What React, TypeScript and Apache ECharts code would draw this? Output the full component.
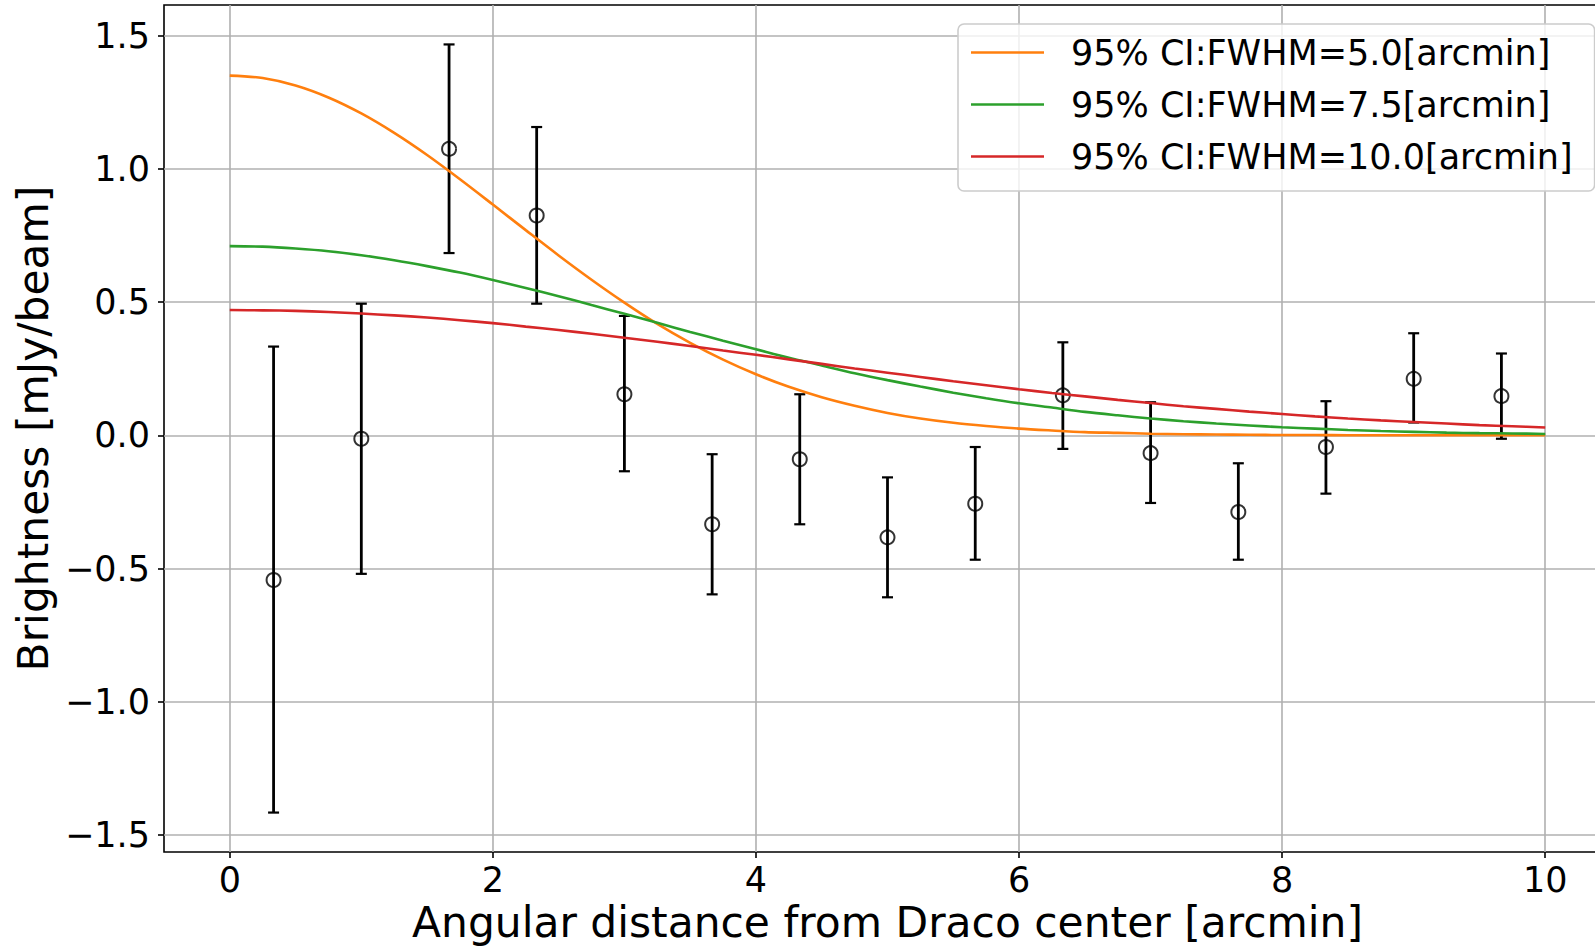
import React, { useEffect, useRef } from 'react';
import * as echarts from 'echarts';

// Model curves (x in arcmin, step 0.25)
const curveX = [0, 0.25, 0.5, 0.75, 1, 1.25, 1.5, 1.75, 2, 2.25, 2.5, 2.75, 3, 3.25, 3.5, 3.75, 4, 4.25, 4.5, 4.75, 5,
  5.25, 5.5, 5.75, 6, 6.25, 6.5, 6.75, 7, 7.25, 7.5, 7.75, 8, 8.25, 8.5, 8.75, 9, 9.25, 9.5, 9.75, 10];
const fwhm5 = [1.35, 1.341, 1.313, 1.268, 1.208, 1.135, 1.052, 0.961, 0.866, 0.77, 0.675, 0.584, 0.498, 0.418, 0.347, 0.284,
  0.229, 0.182, 0.143, 0.111, 0.084, 0.063, 0.047, 0.035, 0.025, 0.018, 0.012, 0.009, 0.006, 0.004, 0.003, 0.002, 0.001,
  0.001, 0.0, 0.0, 0.0, 0.0, 0.0, 0.0, 0.0];
const fwhm75 = [0.71, 0.708, 0.701, 0.691, 0.676, 0.657, 0.635, 0.611, 0.583, 0.553, 0.522, 0.489, 0.456, 0.422, 0.388, 0.355,
  0.323, 0.291, 0.262, 0.233, 0.207, 0.183, 0.16, 0.139, 0.12, 0.104, 0.088, 0.075, 0.063, 0.053, 0.044, 0.037, 0.03,
  0.025, 0.02, 0.016, 0.013, 0.01, 0.008, 0.007, 0.005];
const fwhm10 = [0.47, 0.469, 0.467, 0.463, 0.457, 0.45, 0.442, 0.432, 0.421, 0.408, 0.395, 0.381, 0.366, 0.351, 0.335, 0.318,
  0.302, 0.285, 0.268, 0.251, 0.235, 0.219, 0.203, 0.188, 0.173, 0.159, 0.146, 0.133, 0.121, 0.109, 0.099, 0.089, 0.08,
  0.071, 0.063, 0.056, 0.05, 0.044, 0.038, 0.034, 0.029];

// Measured points with error bars
const pointX = [0.333, 1.0, 1.667, 2.333, 3.0, 3.667, 4.333, 5.0, 5.667, 6.333, 7.0, 7.667, 8.333, 9.0, 9.667];
const pointY = [-0.543, -0.013, 1.075, 0.825, 0.154, -0.334, -0.09, -0.383, -0.257, 0.15, -0.067, -0.288, -0.044, 0.212, 0.147];
const errTop = [0.333, 0.494, 1.467, 1.157, 0.448, -0.071, 0.154, -0.158, -0.044, 0.349, 0.124, -0.105, 0.128, 0.383, 0.307];
const errBottom = [-1.416, -0.52, 0.684, 0.494, -0.135, -0.597, -0.334, -0.608, -0.467, -0.051, -0.254, -0.467, -0.219, 0.048, -0.013];

// Tick values
const xTicks = [0, 2, 4, 6, 8, 10];
const yTicks = [-1.5, -1.0, -0.5, 0.0, 0.5, 1.0, 1.5];

const seriesNames = ['95% CI:FWHM=5.0[arcmin]', '95% CI:FWHM=7.5[arcmin]', '95% CI:FWHM=10.0[arcmin]'];
const seriesColors = ['#ff7f0e', '#2ca02c', '#d62728'];
const curves = [fwhm5, fwhm75, fwhm10];

const FONT = 'DejaVu Sans';

export default function App() {
  const ref = useRef<HTMLDivElement>(null);
  useEffect(() => {
    if (!ref.current) return;
    const chart = echarts.init(ref.current, null, { renderer: 'svg' });
    const option: any = {
      animation: false,
      backgroundColor: '#ffffff',
      grid: {
        left: 164,
        top: 5,
        right: -16,
        bottom: 96,
        outerBoundsMode: 'none',
        containLabel: false,
        show: true,
        borderColor: '#000000',
        borderWidth: 1.6,
        backgroundColor: 'transparent',
      },
      legend: {
        orient: 'vertical',
        left: 958,
        top: 24,
        data: seriesNames,
        icon: 'rect',
        itemWidth: 73,
        itemHeight: 2.6,
        itemGap: 17,
        padding: [11, 22, 17, 13],
        backgroundColor: 'rgba(255,255,255,0.8)',
        borderColor: '#cccccc',
        borderWidth: 1.6,
        borderRadius: 6,
        textStyle: {
          fontFamily: FONT,
          fontSize: 35,
          color: '#000000',
          padding: [0, 0, 0, 22],
        },
      },
      xAxis: {
        type: 'value',
        min: -0.5,
        max: 10.5,
        name: 'Angular distance from Draco center [arcmin]',
        nameLocation: 'middle',
        nameGap: 46,
        nameTextStyle: { fontFamily: FONT, fontSize: 42.4, color: '#000000' },
        axisLine: { show: false, onZero: false },
        axisTick: { show: true, length: 6, customValues: xTicks, lineStyle: { color: '#000000', width: 1.6 } },
        axisLabel: {
          fontFamily: FONT,
          fontSize: 35,
          color: '#000000',
          margin: 10,
          customValues: xTicks,
          formatter: (v: number) => (Math.abs(v - Math.round(v)) < 1e-6 && Math.round(v) % 2 === 0 ? String(Math.round(v)) : ''),
        },
        splitLine: { show: true, lineStyle: { color: '#b0b0b0', width: 1.6 } },
      },
      yAxis: {
        type: 'value',
        min: -1.564,
        max: 1.615,
        name: 'Brightness [mJy/beam]',
        nameLocation: 'middle',
        nameGap: 103,
        nameTextStyle: { fontFamily: FONT, fontSize: 42.4, color: '#000000' },
        axisLine: { show: false, onZero: false },
        axisTick: { show: true, length: 6, customValues: yTicks, lineStyle: { color: '#000000', width: 1.6 } },
        axisLabel: {
          fontFamily: FONT,
          fontSize: 35,
          color: '#000000',
          margin: 14,
          customValues: yTicks,
          formatter: (v: number) =>
            Math.abs(v * 2 - Math.round(v * 2)) < 1e-6 ? (Math.round(v * 2) / 2).toFixed(1).replace('-', '\u2212') : '',
        },
        splitLine: { show: true, lineStyle: { color: '#b0b0b0', width: 1.6 } },
      },
      series: [
        {
          type: 'custom',
          name: 'errorbars',
          z: 3,
          renderItem: (params: any, api: any) => {
            const x = api.value(0);
            const lo = api.coord([x, api.value(1)]);
            const hi = api.coord([x, api.value(2)]);
            const cw = 5.5;
            return {
              type: 'group',
              children: [
                { type: 'line', shape: { x1: lo[0], y1: lo[1], x2: hi[0], y2: hi[1] }, style: { stroke: '#000000', lineWidth: 2.8 } },
                { type: 'line', shape: { x1: lo[0] - cw, y1: lo[1], x2: lo[0] + cw, y2: lo[1] }, style: { stroke: '#000000', lineWidth: 2.2 } },
                { type: 'line', shape: { x1: hi[0] - cw, y1: hi[1], x2: hi[0] + cw, y2: hi[1] }, style: { stroke: '#000000', lineWidth: 2.2 } },
              ],
            };
          },
          encode: { x: 0, y: [1, 2] },
          data: pointX.map((x, i) => [x, errBottom[i], errTop[i]]),
        },
        {
          type: 'scatter',
          name: 'points',
          z: 4,
          symbol: 'circle',
          symbolSize: 14,
          itemStyle: { color: 'rgba(0,0,0,0)', borderColor: '#000000', borderWidth: 2 },
          data: pointX.map((x, i) => [x, pointY[i]]),
        },
        ...curves.map((c, k) => ({
          type: 'line',
          name: seriesNames[k],
          z: 5,
          smooth: 0.3,
          symbol: 'none',
          showSymbol: false,
          color: seriesColors[k],
          lineStyle: { color: seriesColors[k], width: 2.6 },
          data: curveX.map((x, i) => [x, c[i]]),
        })),
      ],
    };
    chart.setOption(option);
    return () => chart.dispose();
  }, []);
  return <div ref={ref} style={{ position: 'fixed', left: 0, top: 0, width: 1595, height: 948 }} />;
}
